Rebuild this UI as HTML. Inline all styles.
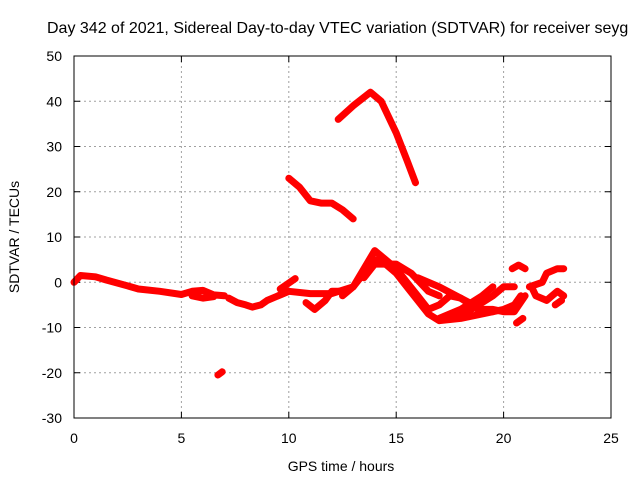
<!DOCTYPE html>
<html><head><meta charset="utf-8"><style>
body{margin:0;background:#fff}
svg{display:block;font-family:"Liberation Sans",sans-serif;font-size:14px}
</style></head><body>
<svg id="c" width="640" height="480">
<text x="47" y="33" style="font-size:16px">Day 342 of 2021, Sidereal Day-to-day VTEC variation (SDTVAR) for receiver seyg</text>
<g id="grid"></g>
<g id="ticks"></g>
<g id="series"></g>
<rect x="74" y="56" width="537" height="362" fill="none" stroke="#000" stroke-width="1"/>
<text x="341" y="471" text-anchor="middle">GPS time / hours</text>
<text transform="translate(19,237) rotate(-90)" text-anchor="middle">SDTVAR / TECUs</text>
</svg>
<script>
const xTicks=[0,5,10,15,20,25];
const yTicks=[-30,-20,-10,0,10,20,30,40,50];
const trackBaseT=[0,0.3,1,1.5,2.5,3,4,5,5.5,6,6.5,7];
const trackBaseV=[0,1.5,1.2,0.5,-0.8,-1.5,-2,-2.7,-2,-1.8,-2.8,-3];
const trackBase2T=[5.5,6,6.5];
const trackBase2V=[-3,-3.5,-3.2];
const trackDipT=[7.2,7.6,8,8.3,8.7,9,9.5,10];
const trackDipV=[-3.5,-4.5,-5,-5.5,-5,-4,-3,-2];
const trackMidT=[10,10.5,11,11.5,12,12.5,13];
const trackMidV=[23,21,18,17.5,17.5,16,14];
const trackPeakT=[12.3,13,13.8,14.3,15,15.5,15.9];
const trackPeakV=[36,39,42,40,33,27,22];
const trackOutT=[6.7,6.9];
const trackOutV=[-20.5,-19.8];
const trackE1T=[9.5,10,11,12,13,13.5,14,14.5,15,15.5,16,16.5,17,18,19,20,20.5,20.8];
const trackE1V=[-3,-2,-2.5,-2.5,-1,2,5,4,2,-1,-4,-7,-8.5,-8,-7,-6,-5,-3];
const trackE2T=[9.6,10.3];
const trackE2V=[-1.5,0.8];
const trackE3T=[10.8,11.2,11.7,12,12.5];
const trackE3V=[-4.5,-6,-4,-2,-2];
const trackE4T=[12.5,13,13.5,14,14.5,15,15.5,16,16.5,17,17.5,18,19,19.5,20,20.5,21];
const trackE4V=[-3,-1,3,7,5,3,0,-3,-6,-5,-3,-3.5,-6,-6,-6.5,-6.5,-3];
const trackE5T=[13.5,14,15,15.7,16.5,17];
const trackE5V=[1,4,4,2,-2,-3];
const trackE6T=[16,17,18,18.8,19.5];
const trackE6V=[1,-1,-3.5,-6,-6.5];
const trackE7T=[17,18,19,19.5];
const trackE7V=[-8,-6,-3,-1];
const trackE8T=[17.5,18.5,19.5,20,20.5];
const trackE8V=[-8,-6,-3,-1,-1];
const trackF1T=[20.4,20.7,21];
const trackF1V=[3,3.8,3];
const trackF2T=[20.6,20.9];
const trackF2V=[-9,-8];
const trackG1T=[21.2,21.8,22,22.5,22.8];
const trackG1V=[-1,0,2,3,3];
const trackG2T=[21.3,21.5,22,22.5,22.8];
const trackG2V=[-1,-3,-4,-2,-3];
const trackG3T=[22.4,22.7];
const trackG3V=[-5,-4];
const tracks=[[trackBaseT,trackBaseV],[trackBase2T,trackBase2V],[trackDipT,trackDipV],[trackMidT,trackMidV],[trackPeakT,trackPeakV],[trackOutT,trackOutV],[trackE1T,trackE1V],[trackE2T,trackE2V],[trackE3T,trackE3V],[trackE4T,trackE4V],[trackE5T,trackE5V],[trackE6T,trackE6V],[trackE7T,trackE7V],[trackE8T,trackE8V],[trackF1T,trackF1V],[trackF2T,trackF2V],[trackG1T,trackG1V],[trackG2T,trackG2V],[trackG3T,trackG3V]];
const X=t=>74+t*537/25;
const Y=v=>418-(v+30)*362/80;
const NS="http://www.w3.org/2000/svg";
function mk(tag,attrs,parent){const e=document.createElementNS(NS,tag);for(const k in attrs)e.setAttribute(k,attrs[k]);parent.appendChild(e);return e;}
const grid=document.getElementById('grid'),ticks=document.getElementById('ticks'),ser=document.getElementById('series');
xTicks.forEach(t=>{const x=X(t);
 if(t>0&&t<25){const g=mk('line',{x1:x,x2:x,y1:56,y2:418,stroke:'#a0a0a0','stroke-dasharray':'2,3'},grid);
 
 }
 mk('line',{x1:x,x2:x,y1:418,y2:412,stroke:'#000'},ticks);mk('line',{x1:x,x2:x,y1:56,y2:62,stroke:'#000'},ticks);
 const l=mk('text',{x:x,y:443,'text-anchor':'middle'},ticks);l.textContent=t;
 
 });
yTicks.forEach(v=>{const y=Y(v);
 if(v>-30&&v<50){const g=mk('line',{x1:74,x2:611,y1:y,y2:y,stroke:'#a0a0a0','stroke-dasharray':'2,3'},grid);
 
 }
 mk('line',{x1:74,x2:80,y1:y,y2:y,stroke:'#000'},ticks);mk('line',{x1:611,x2:605,y1:y,y2:y,stroke:'#000'},ticks);
 const l=mk('text',{x:62,y:y+5,'text-anchor':'end'},ticks);l.textContent=v;
 
 });
tracks.forEach(([ts,vs])=>{const pts=ts.map((t,i)=>X(t).toFixed(1)+','+Y(vs[i]).toFixed(1)).join(' ');
 const p=mk('polyline',{points:pts,fill:'none',stroke:'#f00','stroke-width':7,'stroke-linejoin':'round','stroke-linecap':'round'},ser);
 
 });
</script>
</body></html>
